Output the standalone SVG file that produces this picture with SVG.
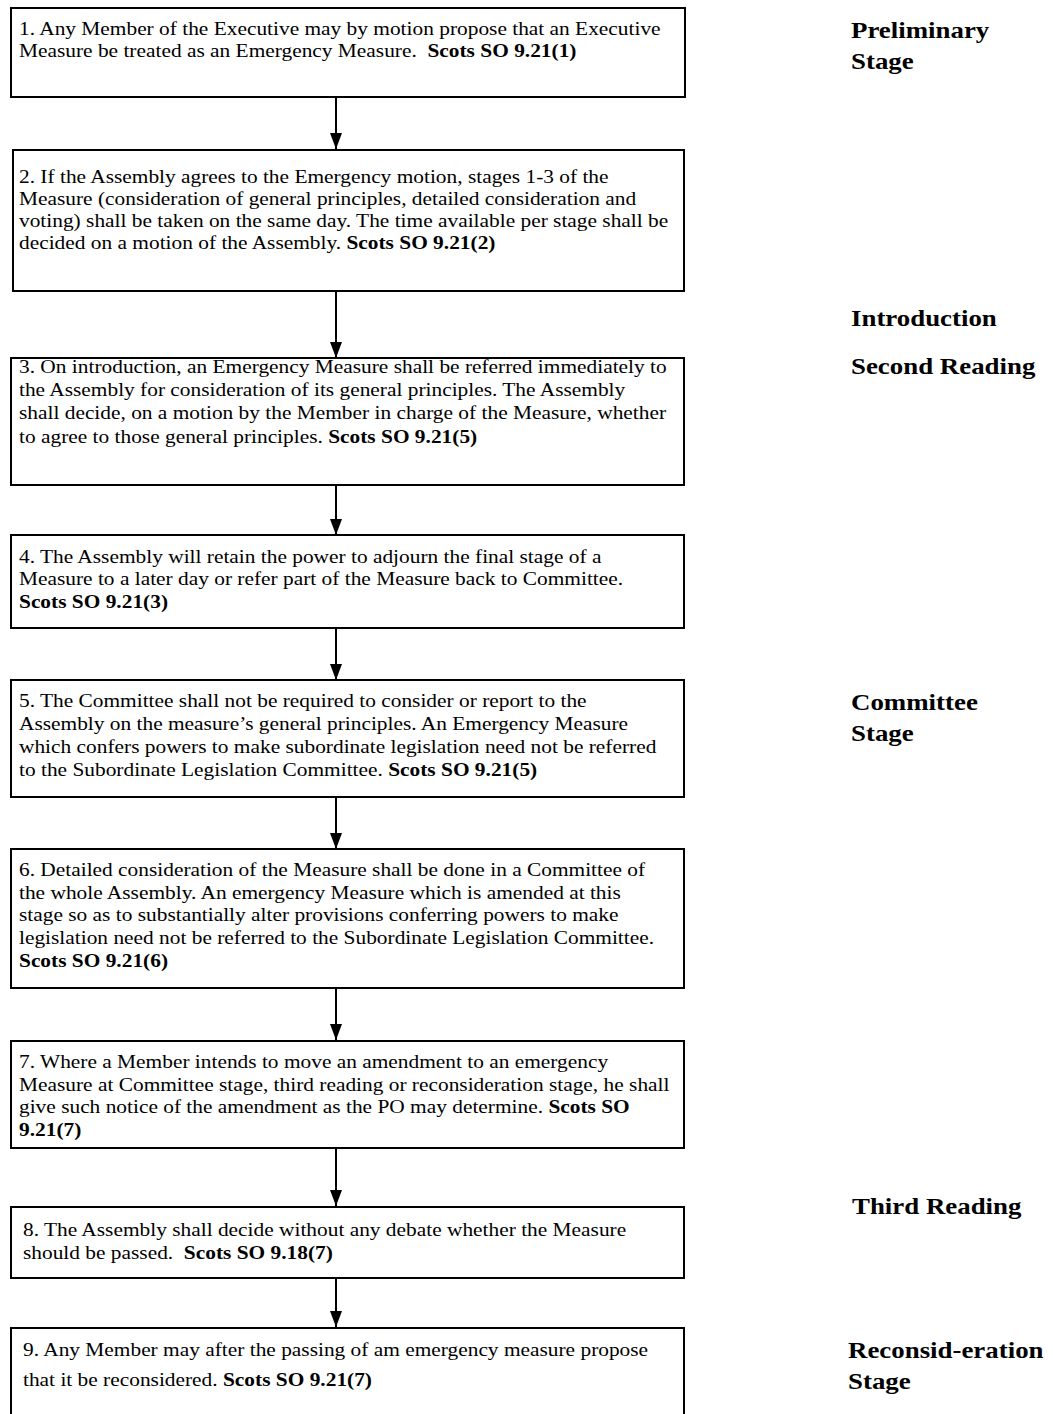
<svg xmlns="http://www.w3.org/2000/svg" width="1053" height="1414" viewBox="0 0 1053 1414">
<style>
.box{fill:#fff;stroke:#000;stroke-width:2}
.t{font-family:"Liberation Serif","Times New Roman",serif;font-size:19px;fill:#000}
.b{font-weight:bold}
.h{font-family:"Liberation Serif","Times New Roman",serif;font-size:24px;font-weight:bold;fill:#000}
.c{stroke:#000;stroke-width:2;fill:none}
</style>
<defs>
<marker id="ah" markerWidth="16" markerHeight="12" refX="16" refY="6" orient="auto" markerUnits="userSpaceOnUse" viewBox="0 0 16 12">
<path d="M0,0 L16,6 L0,12 Z" fill="#000"/>
</marker>
</defs>
<rect width="1053" height="1414" fill="#fff"/>
<g id="connectors">
<line class="c" x1="336" y1="97" x2="336" y2="149" marker-end="url(#ah)"/>
<line class="c" x1="336" y1="291" x2="336" y2="358" marker-end="url(#ah)"/>
<line class="c" x1="336" y1="485" x2="336" y2="535" marker-end="url(#ah)"/>
<line class="c" x1="336" y1="628" x2="336" y2="680" marker-end="url(#ah)"/>
<line class="c" x1="336" y1="797" x2="336" y2="849" marker-end="url(#ah)"/>
<line class="c" x1="336" y1="988" x2="336" y2="1040" marker-end="url(#ah)"/>
<line class="c" x1="336" y1="1148" x2="336" y2="1206" marker-end="url(#ah)"/>
<line class="c" x1="336" y1="1278" x2="336" y2="1327" marker-end="url(#ah)"/>
</g>
<g id="n1">
<rect class="box" x="11" y="8" width="674" height="89"/>
<g transform="translate(19,0) scale(1.125,1)">
<text class="t" x="0" y="35">1. Any Member of the Executive may by motion propose that an Executive</text>
<text class="t" x="0" y="57">Measure be treated as an Emergency Measure.&#160; <tspan class="b">Scots SO 9.21(1)</tspan></text>
</g>
</g>
<g id="n2">
<rect class="box" x="13" y="150" width="671" height="141"/>
<g transform="translate(19,0) scale(1.125,1)">
<text class="t" x="0" y="183">2. If the Assembly agrees to the Emergency motion, stages 1-3 of the</text>
<text class="t" x="0" y="205">Measure (consideration of general principles, detailed consideration and</text>
<text class="t" x="0" y="227">voting) shall be taken on the same day. The time available per stage shall be</text>
<text class="t" x="0" y="249">decided on a motion of the Assembly. <tspan class="b">Scots SO 9.21(2)</tspan></text>
</g>
</g>
<g id="n3">
<rect class="box" x="11" y="358" width="673" height="127"/>
<g transform="translate(19,0) scale(1.125,1)">
<text class="t" x="0" y="373">3. On introduction, an Emergency Measure shall be referred immediately to</text>
<text class="t" x="0" y="396">the Assembly for consideration of its general principles. The Assembly</text>
<text class="t" x="0" y="419">shall decide, on a motion by the Member in charge of the Measure, whether</text>
<text class="t" x="0" y="443">to agree to those general principles. <tspan class="b">Scots SO 9.21(5)</tspan></text>
</g>
</g>
<g id="n4">
<rect class="box" x="11" y="535" width="673" height="93"/>
<g transform="translate(19,0) scale(1.125,1)">
<text class="t" x="0" y="563">4. The Assembly will retain the power to adjourn the final stage of a</text>
<text class="t" x="0" y="585">Measure to a later day or refer part of the Measure back to Committee.</text>
<text class="t b" x="0" y="608">Scots SO 9.21(3)</text>
</g>
</g>
<g id="n5">
<rect class="box" x="11" y="680" width="673" height="117"/>
<g transform="translate(19,0) scale(1.125,1)">
<text class="t" x="0" y="707">5. The Committee shall not be required to consider or report to the</text>
<text class="t" x="0" y="730">Assembly on the measure’s general principles. An Emergency Measure</text>
<text class="t" x="0" y="753">which confers powers to make subordinate legislation need not be referred</text>
<text class="t" x="0" y="776">to the Subordinate Legislation Committee. <tspan class="b">Scots SO 9.21(5)</tspan></text>
</g>
</g>
<g id="n6">
<rect class="box" x="11" y="849" width="673" height="139"/>
<g transform="translate(19,0) scale(1.125,1)">
<text class="t" x="0" y="876">6. Detailed consideration of the Measure shall be done in a Committee of</text>
<text class="t" x="0" y="899">the whole Assembly. An emergency Measure which is amended at this</text>
<text class="t" x="0" y="921">stage so as to substantially alter provisions conferring powers to make</text>
<text class="t" x="0" y="944">legislation need not be referred to the Subordinate Legislation Committee.</text>
<text class="t b" x="0" y="967">Scots SO 9.21(6)</text>
</g>
</g>
<g id="n7">
<rect class="box" x="11" y="1041" width="673" height="107"/>
<g transform="translate(19,0) scale(1.125,1)">
<text class="t" x="0" y="1068">7. Where a Member intends to move an amendment to an emergency</text>
<text class="t" x="0" y="1091">Measure at Committee stage, third reading or reconsideration stage, he shall</text>
<text class="t" x="0" y="1113">give such notice of the amendment as the PO may determine. <tspan class="b">Scots SO</tspan></text>
<text class="t b" x="0" y="1136">9.21(7)</text>
</g>
</g>
<g id="n8">
<rect class="box" x="11" y="1207" width="673" height="71"/>
<g transform="translate(23,0) scale(1.125,1)">
<text class="t" x="0" y="1236">8. The Assembly shall decide without any debate whether the Measure</text>
<text class="t" x="0" y="1259">should be passed.&#160; <tspan class="b">Scots SO 9.18(7)</tspan></text>
</g>
</g>
<g id="n9">
<path class="box" d="M11,1414 V1328 H684 V1414"/>
<g transform="translate(23,0) scale(1.125,1)">
<text class="t" x="0" y="1356">9. Any Member may after the passing of am emergency measure propose</text>
<text class="t" x="0" y="1386">that it be reconsidered. <tspan class="b">Scots SO 9.21(7)</tspan></text>
</g>
</g>
<g id="labels">
<text class="h" transform="translate(851,38) scale(1.12,1)">Preliminary</text>
<text class="h" transform="translate(851,69) scale(1.12,1)">Stage</text>
<text class="h" transform="translate(851,326) scale(1.12,1)">Introduction</text>
<text class="h" transform="translate(851,374) scale(1.12,1)">Second Reading</text>
<text class="h" transform="translate(851,710) scale(1.12,1)">Committee</text>
<text class="h" transform="translate(851,741) scale(1.12,1)">Stage</text>
<text class="h" transform="translate(852,1214) scale(1.12,1)">Third Reading</text>
<text class="h" transform="translate(848,1358) scale(1.12,1)">Reconsid-eration</text>
<text class="h" transform="translate(848,1389) scale(1.12,1)">Stage</text>
</g>
</svg>
